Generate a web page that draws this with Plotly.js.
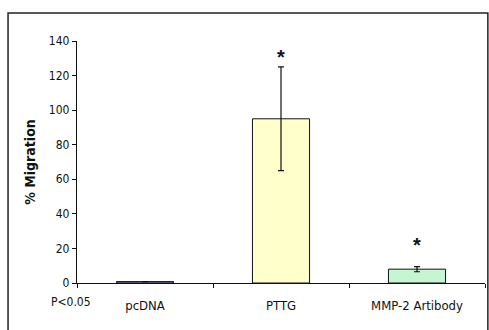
<!DOCTYPE html>
<html>
<head>
<meta charset="utf-8">
<script src="https://cdn.plot.ly/plotly-3.0.1.min.js"></script>
<style>html,body{margin:0;padding:0;background:#fff;}#chart{width:489px;height:330px;}</style>
</head>
<body>
<div id="chart"></div>
<script>
var categories = ["pcDNA", "PTTG", "MMP-2 Artibody"];
var values = [0.8, 95, 8];
var errors = [0, 30, 1.5];
var barColors = ["#a58cd8", "#ffffcc", "#c6f5d2"];
var starLabels = ["", "*", "*"];
var starY = [0, 131, 22];
var yTicks = [0, 20, 40, 60, 80, 100, 120, 140];

var font = "'DejaVu Sans Condensed', 'Liberation Sans Narrow', 'Arial Narrow', sans-serif";

var trace = {
  type: "bar",
  x: categories,
  y: values,
  width: 0.42,
  marker: {color: barColors, line: {color: "#111", width: 1}},
  error_y: {type: "data", array: errors, visible: true, color: "#111", thickness: 1.2, width: 3},
  hoverinfo: "none"
};

var annotations = [];
for (var i = 0; i < categories.length; i++) {
  if (starLabels[i]) {
    annotations.push({x: categories[i], y: starY[i], xref: "x", yref: "y", text: "<b>" + starLabels[i] + "</b>",
      showarrow: false, font: {family: "Liberation Sans, Arial", size: 20, color: "#111"}});
  }
}
annotations.push({x: -0.015, y: -0.043, xref: "paper", yref: "paper", text: "P<0.05",
  showarrow: false, xanchor: "center", yanchor: "top", font: {family: font, size: 12, color: "#111"}});

var layout = {
  width: 489, height: 330,
  margin: {l: 77, r: 4, t: 41, b: 47},
  paper_bgcolor: "#fff", plot_bgcolor: "#fff",
  showlegend: false,
  xaxis: {
    type: "category", range: [-0.5, 2.5],
    showline: true, linecolor: "#111", linewidth: 1.2,
    ticks: "outside", tickson: "boundaries", ticklen: 4, tickcolor: "#111",
    ticklabelstandoff: 10,
    showgrid: false, zeroline: false,
    tickfont: {family: font, size: 13, color: "#111"}
  },
  yaxis: {
    range: [0, 140], tickvals: yTicks,
    showline: true, linecolor: "#111", linewidth: 1.2,
    ticks: "outside", ticklen: 4, tickcolor: "#111",
    showgrid: false, zeroline: false,
    tickfont: {family: font, size: 12, color: "#111"},
    title: {text: "<b>% Migration</b>", standoff: 9, font: {family: font, size: 14, color: "#111"}}
  },
  annotations: annotations,
  shapes: [{type: "rect", xref: "paper", yref: "paper", x0: -0.169, x1: 1.007, y0: -0.25, y1: 1.116,
    line: {color: "#222", width: 1.5}, fillcolor: "rgba(0,0,0,0)", layer: "below"}]
};

Plotly.newPlot("chart", [trace], layout, {staticPlot: true, displayModeBar: false});
</script>
</body>
</html>
